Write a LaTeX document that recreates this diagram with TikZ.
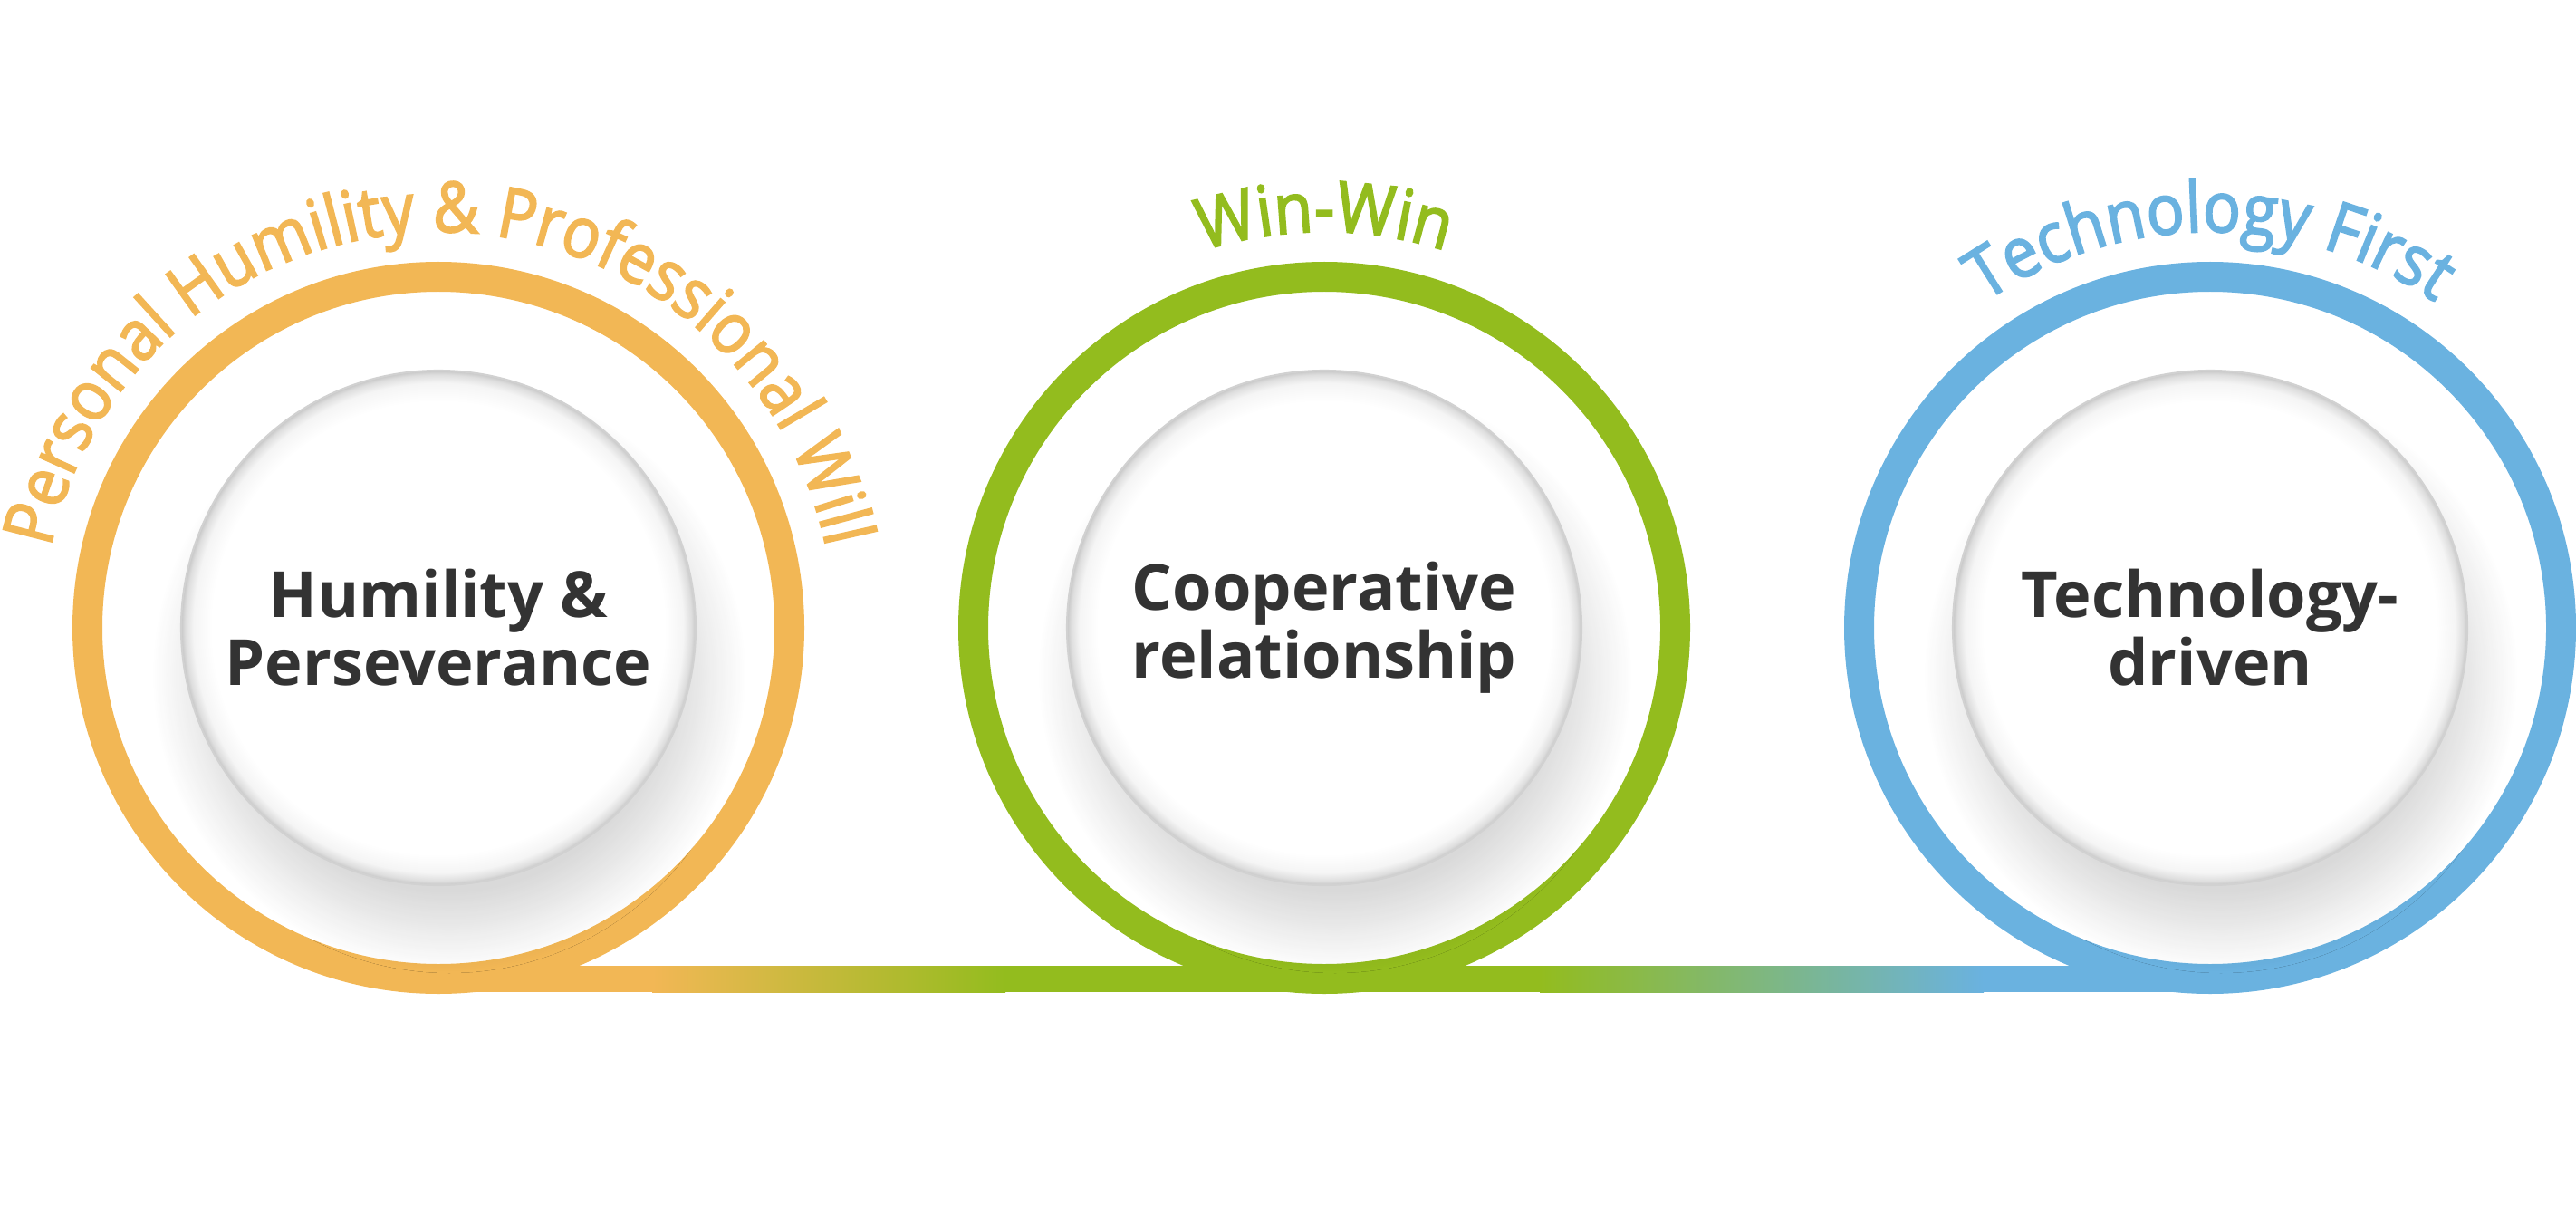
\documentclass[tikz,border=0pt]{standalone}
\usepackage{fontspec}
\setmainfont{Open Sans}
\newfontfamily\arcfam[FakeStretch=0.9, FakeBold=2.5]{Open Sans}
\usetikzlibrary{decorations.text}
\usetikzlibrary{shadows.blur}

\definecolor{orng}{HTML}{F2B755}
\definecolor{grn}{HTML}{93BC1E}
\definecolor{blu}{HTML}{6AB2E0}
\definecolor{ink}{HTML}{333333}

\pgfdeclareradialshading{rim}{\pgfpoint{0bp}{0bp}}{color(0bp)=(white); color(22bp)=(white); color(23.8bp)=(black!4); color(24.6bp)=(black!13); color(25bp)=(black!22); color(50bp)=(black!22)}

\newcommand{\arcfont}{\fontsize{22pt}{27pt}\selectfont\arcfam}
\newcommand{\discfont}{\fontsize{20pt}{21.4pt}\selectfont\bfseries\color{ink}}

\begin{document}
\begin{tikzpicture}[
  ring/.style={circle, minimum size=7.75cm, inner sep=0pt, line width=0.33cm},
  disc/.style={circle, minimum size=5.68cm, inner sep=0pt, align=center, font=\discfont,
    shade, shading=rim, draw=black!18, line width=0.6pt,
    blur shadow={shadow xshift=0.12cm, shadow yshift=-0.52cm, shadow scale=1.0,
      shadow blur radius=0.45cm, shadow blur steps=24, shadow opacity=15}}]

\useasboundingbox (0,0) rectangle (28.44,13.5);

% base line
\coordinate (l-0) at (4.84,2.695);
\coordinate (l-1) at (7.2,2.695);
\coordinate (l-2) at (11.1,2.695);
\coordinate (l-3) at (17.0,2.695);
\coordinate (l-4) at (21.9,2.695);
\coordinate (l-5) at (24.40,2.695);
\fill[orng] ([yshift=-1.45mm]l-0) rectangle ([yshift=1.45mm]l-1);
\shade[left color=orng, right color=grn] ([yshift=-1.45mm]l-1) rectangle ([yshift=1.45mm]l-2);
\fill[grn] ([yshift=-1.45mm]l-2) rectangle ([yshift=1.45mm]l-3);
\shade[left color=grn, right color=blu] ([yshift=-1.45mm]l-3) rectangle ([yshift=1.45mm]l-4);
\fill[blu] ([yshift=-1.45mm]l-4) rectangle ([yshift=1.45mm]l-5);

\node[ring, draw=orng] (ring-1) at (4.84,6.57) {};
\node[disc] (disc-1) at (ring-1) {Humility \&\\Perseverance};
\path[decorate, decoration={text along path, text align=center,
  text={|\arcfont\color{orng}|Personal Humility {\&} Professional Will}}]
  ([shift={(180:4.37)}]ring-1.center) arc[start angle=180, end angle=0, radius=4.37];

\node[ring, draw=grn] (ring-2) at (14.62,6.57) {};
\node[disc] (disc-2) at (ring-2) {Cooperative\\relationship};
\path[decorate, decoration={text along path, text align=center,
  text={|\arcfont\color{grn}|Win-Win}}]
  ([shift={(180:4.37)}]ring-2.center) arc[start angle=180, end angle=0, radius=4.37];

\node[ring, draw=blu] (ring-3) at (24.40,6.57) {};
\node[disc] (disc-3) at (ring-3) {Technology-\\driven};
\path[decorate, decoration={text along path, text align=center,
  text={|\arcfont\color{blu}|Technology First}}]
  ([shift={(180:4.37)}]ring-3.center) arc[start angle=180, end angle=0, radius=4.37];

\end{tikzpicture}
\end{document}
